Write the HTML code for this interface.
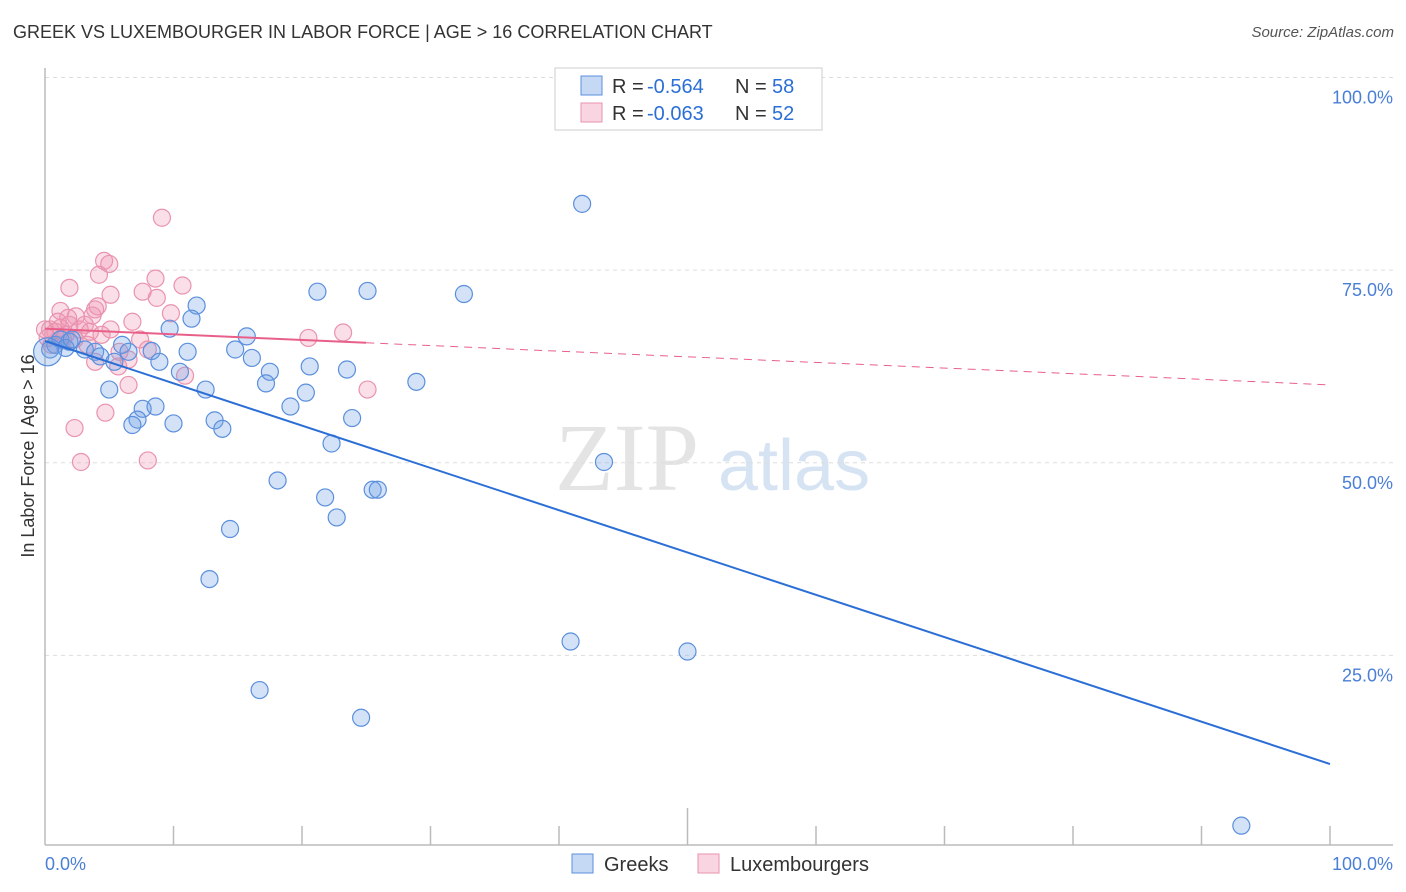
<!DOCTYPE html>
<html><head><meta charset="utf-8"><style>
body{margin:0;background:#fff;font-family:"Liberation Sans",sans-serif;}
#wrap{position:relative;width:1406px;height:892px;overflow:hidden;}
.t{position:absolute;white-space:nowrap;}
</style></head><body>
<div id="wrap">
<div class="t" style="left:13px;top:22px;font-size:18px;color:#333;">GREEK VS LUXEMBOURGER IN LABOR FORCE | AGE &gt; 16 CORRELATION CHART</div>
<div class="t" style="right:12px;top:24px;font-size:15px;color:#555;font-style:italic;">Source: ZipAtlas.com</div>
<svg id="svg" width="1406" height="892" style="position:absolute;left:0;top:0"></svg>
</div>
<script>
const yTicks=[25,50,75,100];
const xTickLabels=["0.0%","100.0%"];
const greekX=[41.8,25.1,21.2,32.6,11.8,9.7,11.4,15.7,6.0,8.3,11.1,14.8,16.1,8.9,10.5,17.5,17.2,20.6,23.5,28.9,12.5,20.3,5.0,19.1,7.6,8.6,23.9,7.2,6.8,10.0,13.2,13.8,22.3,43.5,18.1,21.8,25.5,25.9,22.7,14.4,12.8,40.9,50.0,16.7,24.6,93.1,0.8,1.2,1.9,3.1,3.9,4.3,5.4,6.5,1.6,0.4,2.1,0.2];
const greekY=[83.6,72.3,72.2,71.9,70.4,67.4,68.7,66.4,65.3,64.5,64.4,64.7,63.6,63.1,61.8,61.8,60.3,62.5,62.1,60.5,59.5,59.1,59.5,57.3,57.0,57.3,55.8,55.6,54.9,55.1,55.5,54.4,52.5,50.1,47.7,45.5,46.5,46.5,42.9,41.4,34.9,26.8,25.5,20.5,16.9,2.9,65.3,66.0,65.7,64.7,64.4,63.8,63.1,64.4,64.9,64.7,66.0,64.4];
const luxX=[9.1,4.6,5.0,4.2,8.6,1.9,10.7,5.1,7.6,8.7,4.1,3.9,1.2,1.8,3.7,2.4,9.8,6.8,3.1,1.2,0.4,0.8,2.7,3.5,4.4,20.5,23.2,1.6,0.2,2.3,5.8,8.0,6.5,3.9,5.7,10.9,6.5,4.7,2.3,2.8,8.0,25.1,0.5,1.0,1.9,5.1,3.3,1.4,7.4,0];
const luxY=[81.8,76.2,75.8,74.4,73.9,72.7,73.0,71.8,72.2,71.4,70.3,69.9,69.7,68.8,69.1,69.0,69.4,68.3,67.9,67.5,67.3,67.0,67.3,67.0,66.6,66.2,66.9,66.6,66.2,66.0,64.4,64.7,63.4,63.1,62.5,61.3,60.1,56.5,54.5,50.1,50.3,59.5,65.3,68.3,67.9,67.3,65.3,66.0,66.0,67.3];
const greekTrend=[65.8,10.9];
const luxTrend=[67.4,60.1];
const luxSolidEnd=25;

const svg=document.getElementById('svg');
const NS='http://www.w3.org/2000/svg';
const X0=45,X1=1330,Y0=848,Y100=77.5;
function sx(v){return X0+(X1-X0)*v/100;}
function sy(v){return Y0-(Y0-Y100)*v/100;}
function mk(tag,attrs,name){const e=document.createElementNS(NS,tag);for(const k in attrs)e.setAttribute(k,attrs[k]);


svg.appendChild(e);return e;}
// watermark
let w=mk('text',{x:555,y:490,'font-size':96,'font-family':'Liberation Serif, serif',fill:'#e4e4e4'},'watermark-zip');w.textContent='ZIP';
w=mk('text',{x:718,y:490,'font-size':72,'font-family':'Liberation Sans, sans-serif',fill:'#d6e3f3'},'watermark-atlas');w.textContent='atlas';
// grid
yTicks.forEach(t=>{mk('line',{x1:X0,x2:1393,y1:sy(t),y2:sy(t),stroke:'#ddd','stroke-dasharray':'4 4'},'gridline-'+t);
const tx=mk('text',{x:1393,y:sy(t)+26,'text-anchor':'end','font-size':18,fill:'#4a7fd6','font-family':'Liberation Sans, sans-serif'},'y-tick-label-'+t);tx.textContent=t.toFixed(1)+'%';});
// axes
mk('line',{x1:X0,x2:X0,y1:68,y2:845,stroke:'#bbb','stroke-width':1.5},'y-axis');
mk('line',{x1:X0,x2:1393,y1:845,y2:845,stroke:'#bbb','stroke-width':1.5},'x-axis');
for(let i=1;i<=10;i++){mk('line',{x1:sx(i*10),x2:sx(i*10),y1:i==5?808:826,y2:845,stroke:'#bbb','stroke-width':1.5},'x-tick');}
let tl=mk('text',{x:45,y:870,'font-size':18,fill:'#4a7fd6','font-family':'Liberation Sans, sans-serif'},'x-tick-label-min');tl.textContent=xTickLabels[0];
tl=mk('text',{x:1393,y:870,'text-anchor':'end','font-size':18,fill:'#4a7fd6','font-family':'Liberation Sans, sans-serif'},'x-tick-label-max');tl.textContent=xTickLabels[1];
tl=mk('text',{x:34,y:456,'text-anchor':'middle','font-size':18,fill:'#333',transform:'rotate(-90 34 456)','font-family':'Liberation Sans, sans-serif'},'y-axis-title');tl.textContent='In Labor Force | Age > 16';
// points
luxX.forEach((v,i)=>mk('circle',{cx:sx(v),cy:sy(luxY[i]),r:8.5,fill:'rgba(240,150,180,0.3)',stroke:'#ea93ad','stroke-width':1.2},'lux-point'));
greekX.forEach((v,i)=>mk('circle',{cx:sx(v),cy:sy(greekY[i]),r:i==greekX.length-1?14:8.5,fill:'rgba(110,160,230,0.3)',stroke:'#5b8fdd','stroke-width':1.2},'greek-point'));
// trends
mk('line',{x1:sx(0),y1:sy(greekTrend[0]),x2:sx(100),y2:sy(greekTrend[1]),stroke:'#2b6fd6','stroke-width':2},'greek-trend-line');
const ly=v=>luxTrend[0]+(luxTrend[1]-luxTrend[0])*v/100;
mk('line',{x1:sx(0),y1:sy(ly(0)),x2:sx(luxSolidEnd),y2:sy(ly(luxSolidEnd)),stroke:'#e8608a','stroke-width':2},'lux-trend-line');
mk('line',{x1:sx(luxSolidEnd),y1:sy(ly(luxSolidEnd)),x2:sx(100),y2:sy(ly(100)),stroke:'#e8608a','stroke-width':1,'stroke-dasharray':'8 6'},'lux-trend-dashed');
// legend box
mk('rect',{x:555,y:68,width:267,height:62,fill:'#fff',stroke:'#ccc'},'legend-box');
mk('rect',{x:581,y:76,width:21,height:19,fill:'rgba(110,160,230,0.4)',stroke:'#5b8fdd'},'legend-greek-swatch');
mk('rect',{x:581,y:103,width:21,height:19,fill:'rgba(240,150,180,0.4)',stroke:'#ea93ad'},'legend-lux-swatch');
function lt(x,y,s,c,n){const t=mk('text',{x:x,y:y,'font-size':20,fill:c,'font-family':'Liberation Sans, sans-serif'},n);t.textContent=s;}
lt(612,93,'R =','#333','legend-r-label');lt(647,93,'-0.564','#2b6fd6','legend-greek-r');lt(735,93,'N =','#333','legend-n-label');lt(772,93,'58','#2b6fd6','legend-greek-n');
lt(612,120,'R =','#333','legend-r-label');lt(647,120,'-0.063','#2b6fd6','legend-lux-r');lt(735,120,'N =','#333','legend-n-label');lt(772,120,'52','#2b6fd6','legend-lux-n');
// bottom legend
mk('rect',{x:572,y:854,width:21,height:19,fill:'rgba(110,160,230,0.4)',stroke:'#5b8fdd'},'bottom-legend-greek-swatch');
mk('rect',{x:698,y:854,width:21,height:19,fill:'rgba(240,150,180,0.4)',stroke:'#ea93ad'},'bottom-legend-lux-swatch');
lt(604,871,'Greeks','#333','bottom-legend-greeks');lt(730,871,'Luxembourgers','#333','bottom-legend-luxembourgers');
</script>
</body></html>
